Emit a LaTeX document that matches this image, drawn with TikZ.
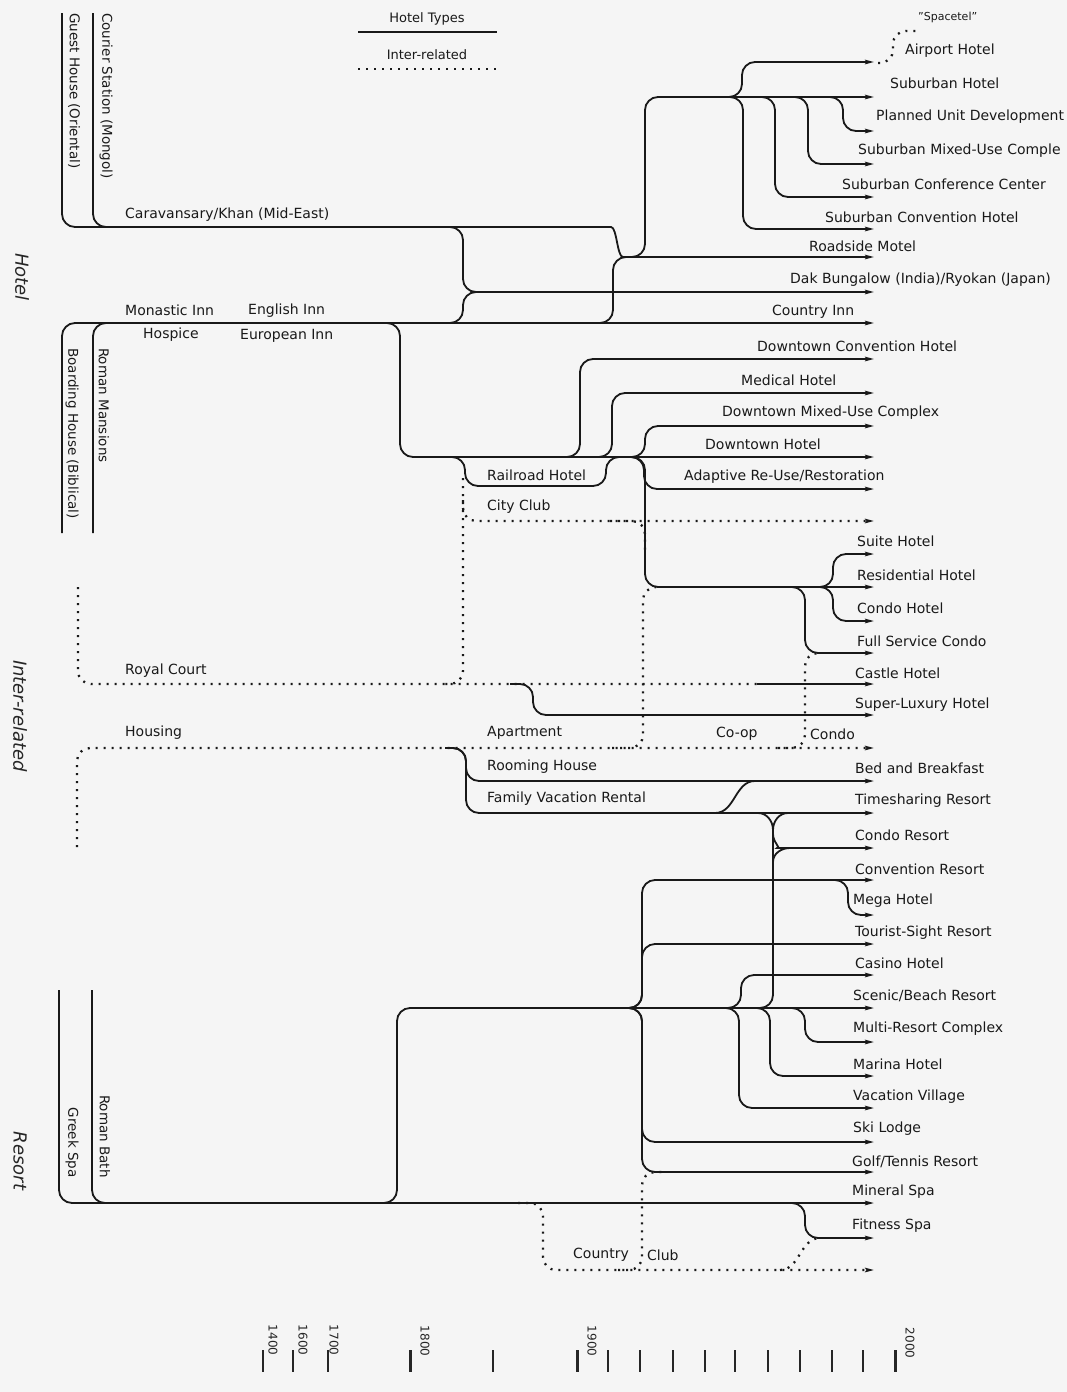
\documentclass[tikz,border=0pt]{standalone}
\usepackage{fontspec}
\setmainfont{DejaVu Sans}
\usetikzlibrary{arrows.meta}
\begin{document}
\begin{tikzpicture}[x=1pt,y=-1pt,
  ln/.style={line width=1.8pt, rounded corners=13pt, draw=black!90},
  dl/.style={line width=2.3pt, dash pattern=on 2pt off 6pt, rounded corners=13pt, draw=black!90},
  arr/.style={-{Stealth[length=9pt,width=4.5pt,inset=1.5pt]}},
  lab/.style={font=\fontsize{14}{16}\selectfont, anchor=west, inner sep=0pt, text=black!90},
  vlab/.style={font=\fontsize{13.5}{15}\selectfont, rotate=-90, anchor=west, inner sep=0pt, text=black!90},
  sidelab/.style={font=\fontsize{18}{20}\selectfont\itshape, rotate=-90, inner sep=0pt, text=black!85},
  tk/.style={line width=1.5pt, draw=black!85},
  tkb/.style={line width=3pt, draw=black!85},
  yearlab/.style={font=\fontsize{12}{14}\selectfont, rotate=-90, inner sep=0pt, text=black!85}
]
\fill[black!4] (0,0) rectangle (1067,1392);
\useasboundingbox (0,0) rectangle (1067,1392);

% arrow end points
\foreach \n/\y in {air/62, sub/97, pud/131, smx/164, scc/197, scv/229, road/257, dak/292, cinn/323,
  dcv/359, med/393, dmx/426, dth/457, adr/489, club/521, suite/554, res/587, cht/621, fsc/653,
  cas/684, slx/715, hou/748, bb/781, ts/813, cr/848, conv/880, mega/915, tsr/944, casino/975,
  scen/1008, mrc/1042, mar/1076, vv/1108, ski/1142, golf/1172, min/1203, fit/1238, cc/1270}
  \coordinate (e\n) at (874,\y);

% start points of trunks
\coordinate (gh) at (62,13);
\coordinate (cs) at (93,13);
\coordinate (bh) at (62,533);
\coordinate (rm) at (93,533);
\coordinate (gs) at (59,990);
\coordinate (rb) at (92,990);
\coordinate (rc) at (78,587);
\coordinate (ho) at (77,847);

% ---------- legend ----------
\node[lab, anchor=center, font=\fontsize{13}{15}\selectfont] (lgA) at (427,19) {Hotel Types};
\coordinate (lgA1) at (358,32); \coordinate (lgA2) at (497,32);
\draw[ln] (lgA1) -- (lgA2);
\node[lab, anchor=center, font=\fontsize{13}{15}\selectfont] (lgB) at (427,55) {Inter-related};
\coordinate (lgB1) at (358,69); \coordinate (lgB2) at (497,69);
\draw[dl] (lgB1) -- (lgB2);

% ---------- side labels ----------
\node[sidelab] (sHotel) at (22,277) {Hotel};
\node[sidelab] (sInter) at (20,716) {Inter-related};
\node[sidelab] (sResort) at (20,1161) {Resort};

% ---------- hotel: caravansary branch ----------
\draw[ln,arr] (gh) |- (598,227) to[out=0,in=180] (636,257) -- (eroad);
\draw[ln] (cs) |- (140,227);
\draw[ln,arr] (440,227) -| (463,292) -- (edak);
\draw[ln] (440,323) -| (463,292) -- (490,292);
\draw[ln] (588,323) -| (613,257) -- (640,257);
\draw[ln,arr] (622,257) -| (645,97) -- (esub);
\draw[ln,arr] (718,97) -| (742,62) -- (eair);
\draw[ln,arr] (718,97) -| (743,229) -- (escv);
\draw[ln,arr] (755,97) -| (775,197) -- (escc);
\draw[ln,arr] (788,97) -| (808,164) -- (esmx);
\draw[ln,arr] (822,97) -| (843,131) -- (epud);
\draw[dl] (878,63) -| (893,31) -- (916,31);

\node[vlab] (nGuest) at (74,13) {Guest House (Oriental)};
\node[vlab] (nCourier) at (106,13) {Courier Station (Mongol)};
\node[lab] (nCarav) at (125,215) {Caravansary/Khan (Mid-East)};

% ---------- hotel: monastic branch ----------
\draw[ln,arr] (bh) |- (ecinn);
\draw[ln] (rm) |- (140,323);
\draw[ln,arr] (378,323) -| (400,457) -- (edth);
\draw[ln,arr] (558,457) -| (580,359) -- (edcv);
\draw[ln,arr] (592,457) -| (612,393) -- (emed);
\draw[ln,arr] (623,457) -| (645,426) -- (edmx);
\draw[ln] (443,457) -| (465,486) -| (606,457) -- (622,457);
\draw[ln,arr] (625,457) -| (644,489) -- (eadr);
\draw[ln,arr] (625,457) -| (645,587) -- (eres);
\draw[ln,arr] (812,587) -| (833,554) -- (esuite);
\draw[ln,arr] (812,587) -| (833,621) -- (echt);
\draw[ln,arr] (783,587) -| (805,653) -- (efsc);

\node[vlab] (nBoard) at (72,348) {Boarding House (Biblical)};
\node[vlab] (nRomanM) at (104,348) {Roman Mansions};
\node[lab] (nMon) at (125,310) {Monastic Inn};
\node[lab] (nEng) at (248,311) {English Inn};
\node[lab] (nHosp) at (143,335) {Hospice};
\node[lab] (nEur) at (240,336) {European Inn};
\node[lab] (nRail) at (487,475) {Railroad Hotel};
\node[lab] (nCity) at (487,507) {City Club};

% ---------- inter-related ----------
\draw[dl] (463,478) |- (440,684);
\draw[dl,arr] (463,500) |- (eclub);
\draw[dl] (610,521) -| (645,552);
\draw[dl] (612,748) -| (643,587) -- (662,587);
\draw[dl] (rc) |- (757,684);
\coordinate (rcs) at (757,684);
\draw[ln,arr] (rcs) -- (ecas);
\draw[ln,arr] (510,684) -| (533,715) -- (eslx);
\draw[dl,arr] (ho) |- (ehou);
\draw[dl] (778,748) -| (805,653) -- (822,653);
\draw[ln,arr] (445,748) -| (466,781) -- (ebb);
\draw[ln,arr] (445,748) -| (466,813) -- (ets);
\draw[ln] (715,813) to[out=0,in=180] (755,781);

\node[lab] (nRoyal) at (125,671) {Royal Court};
\node[lab] (nHousing) at (125,733) {Housing};
\node[lab] (nApt) at (487,733) {Apartment};
\node[lab] (nCoop) at (716,734) {Co-op};
\node[lab] (nCondo) at (810,734) {Condo};
\node[lab] (nRoom) at (487,767) {Rooming House};
\node[lab] (nFam) at (487,799) {Family Vacation Rental};

% ---------- resort ----------
\draw[ln,arr] (gs) |- (emin);
\draw[ln] (rb) |- (140,1203);
\draw[ln,arr] (372,1203) -| (397,1008) -- (escen);
\draw[ln,arr] (782,1203) -| (805,1238) -- (efit);
\draw[dl,arr] (518,1203) -| (543,1270) -- (ecc);
\draw[dl] (780,1270) to[out=0,in=180] (820,1238);
\draw[dl] (618,1270) -| (642,1172) -- (662,1172);
\draw[ln,arr] (618,1008) -| (642,880) -- (econv);
\draw[ln,arr] (618,1008) -| (642,944) -- (etsr);
\draw[ln,arr] (618,1008) -| (642,1142) -- (eski);
\draw[ln,arr] (618,1008) -| (642,1172) -- (egolf);
\draw[ln,arr] (828,880) -| (848,915) -- (emega);
\draw[ln,arr] (716,1008) -| (741,975) -- (ecasino);
\draw[ln,arr] (716,1008) -| (739,1108) -- (evv);
\draw[ln,arr] (748,1008) -| (770,1076) -- (emar);
\draw[ln,arr] (782,1008) -| (805,1042) -- (emrc);
\draw[ln] (750,1008) -| (773,826);
\draw[ln] (773,830) to[out=90,in=0] (758,813);
\draw[ln] (773,830) to[out=90,in=180] (788,813);
\draw[ln,arr] (773,834) to[out=-90,in=180] (790,848) -- (ecr);
\draw[ln] (773,862) to[out=90,in=180] (790,848);

\node[vlab, anchor=east] (nGreek) at (72,1178) {Greek Spa};
\node[vlab, anchor=east] (nRomanB) at (105,1178) {Roman Bath};
\node[lab] (nCountry) at (573,1255) {Country};
\node[lab] (nClub) at (647,1255) {Club};

% ---------- right labels ----------
\node[lab, font=\fontsize{11}{13}\selectfont] (rSpace) at (918,17) {"Spacetel"};
\node[lab] (rAir) at (905,51) {Airport Hotel};
\node[lab] (rSub) at (890,83) {Suburban Hotel};
\node[lab] (rPud) at (876,117) {Planned Unit Development};
\node[lab] (rSmx) at (858,151) {Suburban Mixed-Use Comple};
\node[lab] (rScc) at (842,184) {Suburban Conference Center};
\node[lab] (rScv) at (825,217) {Suburban Convention Hotel};
\node[lab] (rRoad) at (809,246) {Roadside Motel};
\node[lab] (rDak) at (790,280) {Dak Bungalow (India)/Ryokan (Japan)};
\node[lab] (rCinn) at (772,312) {Country Inn};
\node[lab] (rDcv) at (757,346) {Downtown Convention Hotel};
\node[lab] (rMed) at (741,380) {Medical Hotel};
\node[lab] (rDmx) at (722,413) {Downtown Mixed-Use Complex};
\node[lab] (rDth) at (705,444) {Downtown Hotel};
\node[lab] (rAdr) at (684,477) {Adaptive Re-Use/Restoration};
\node[lab] (rSuite) at (857,541) {Suite Hotel};
\node[lab] (rRes) at (857,575) {Residential Hotel};
\node[lab] (rCht) at (857,608) {Condo Hotel};
\node[lab] (rFsc) at (857,641) {Full Service Condo};
\node[lab] (rCas) at (855,673) {Castle Hotel};
\node[lab] (rSlx) at (855,705) {Super-Luxury Hotel};
\node[lab] (rBb) at (855,768) {Bed and Breakfast};
\node[lab] (rTs) at (855,801) {Timesharing Resort};
\node[lab] (rCr) at (855,835) {Condo Resort};
\node[lab] (rConv) at (855,869) {Convention Resort};
\node[lab] (rMega) at (853,901) {Mega Hotel};
\node[lab] (rTsr) at (855,933) {Tourist-Sight Resort};
\node[lab] (rCasino) at (855,963) {Casino Hotel};
\node[lab] (rScen) at (853,996) {Scenic/Beach Resort};
\node[lab] (rMrc) at (853,1029) {Multi-Resort Complex};
\node[lab] (rMar) at (853,1064) {Marina Hotel};
\node[lab] (rVv) at (853,1097) {Vacation Village};
\node[lab] (rSki) at (853,1129) {Ski Lodge};
\node[lab] (rGolf) at (852,1162) {Golf/Tennis Resort};
\node[lab] (rMin) at (852,1192) {Mineral Spa};
\node[lab] (rFit) at (852,1226) {Fitness Spa};

% ---------- time axis ----------
\foreach \x in {263,293,328,493,608,640,673,705,735,768,800,832,863}
  \draw[tk] (\x,1350) -- (\x,1372);
\foreach \x in {410,577,895}
  \draw[tkb] (\x,1350) -- (\x,1372);
\node[yearlab] (y14) at (273,1340) {1400};
\node[yearlab] (y16) at (303,1340) {1600};
\node[yearlab] (y17) at (334,1340) {1700};
\node[yearlab] (y18) at (425,1341) {1800};
\node[yearlab] (y19) at (592,1341) {1900};
\node[yearlab] (y20) at (910,1343) {2000};
\end{tikzpicture}
\end{document}
